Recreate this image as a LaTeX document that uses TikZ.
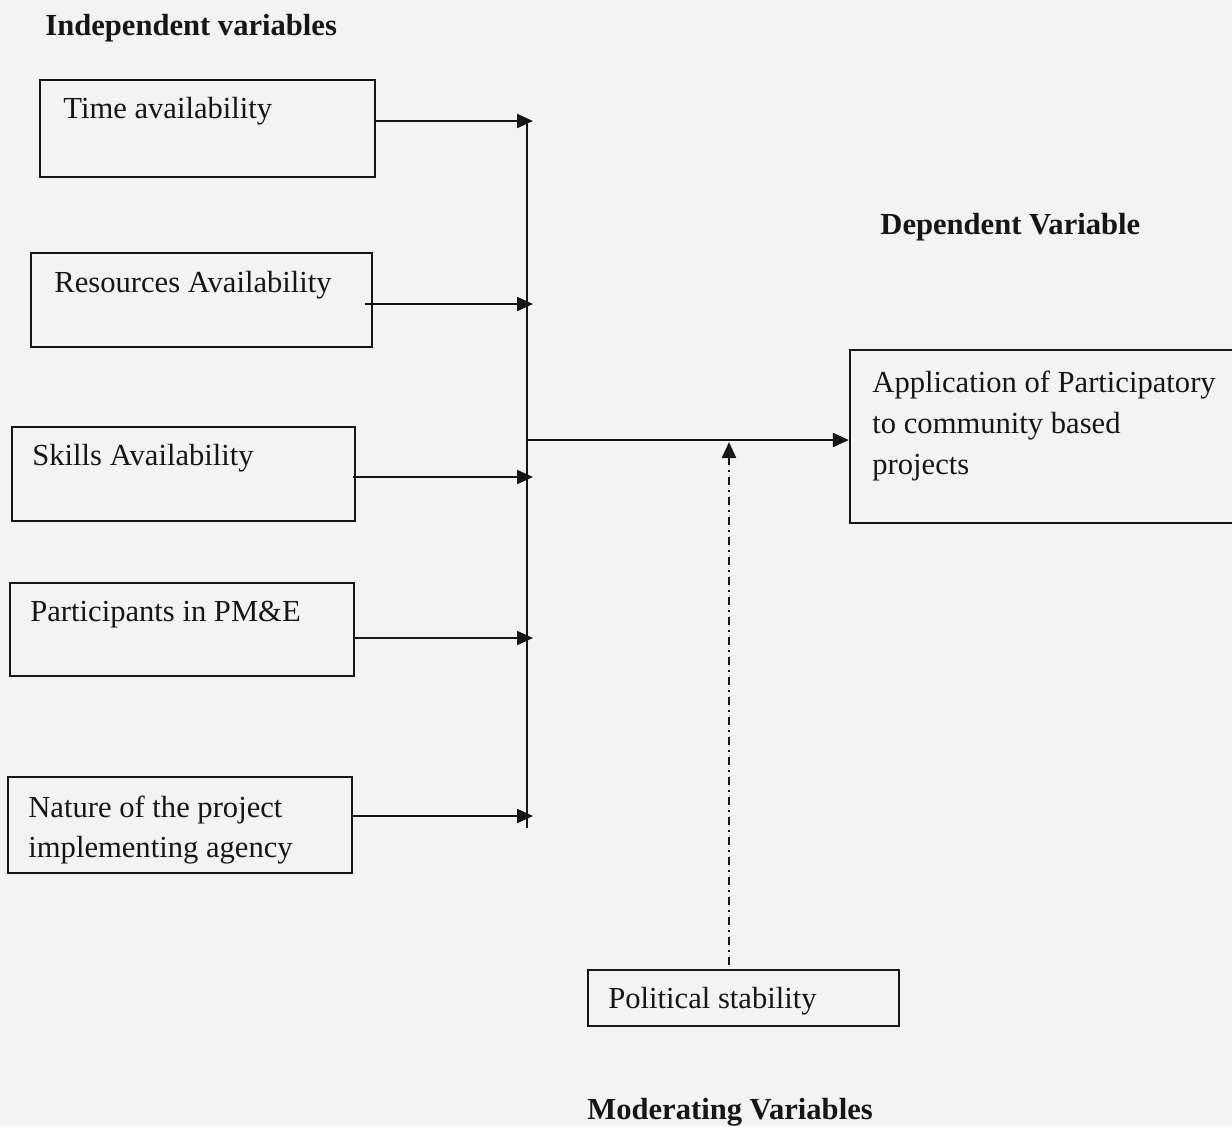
\documentclass[tikz,border=0pt]{standalone}
\usepackage{fontspec}
\setmainfont{Liberation Serif}
\usetikzlibrary{arrows.meta,fit}
\definecolor{paper}{RGB}{243,243,243}
\definecolor{ink}{RGB}{22,22,22}
\tikzset{
  vbox/.style={draw=ink, line width=1.2pt, inner sep=0pt},
  lbl/.style={anchor=west, inner sep=0pt, text=ink, align=left,
    font=\fontsize{15.3}{20.4}\selectfont},
  head/.style={anchor=west, inner sep=0pt, text=ink,
    font=\fontsize{15.3}{18}\selectfont\bfseries},
  trunk/.style={draw=ink, line width=1.1pt},
  link/.style={draw=ink, line width=1.1pt, -{Triangle[length=8pt,width=7pt]}},
  modlink/.style={link, line width=1.2pt, dash pattern=on 4pt off 2.5pt on 1pt off 2.5pt},
}
\begin{document}
\begin{tikzpicture}[x=0.5pt,y=-0.5pt]
\fill[paper] (0,0) rectangle (1232,1126);
\clip (0,0) rectangle (1232,1126);

% headings
\node[head] (indep) at (45,28) {Independent variables};
\node[head] (dep) at (880,227) {Dependent Variable};
\node[head] (mod) at (587,1112) {Moderating Variables};

% independent variable boxes
\node[vbox, fit={(40,80) (375,177)}] (time) {};
\node[lbl] (timet) at (63,111) {Time availability};
\node[vbox, fit={(31,253) (372,347)}] (res) {};
\node[lbl] (rest) at (54,285) {Resources Availability};
\node[vbox, fit={(12,427) (355,521)}] (skill) {};
\node[lbl] (skillt) at (32,458) {Skills Availability};
\node[vbox, fit={(10,583) (354,676)}] (part) {};
\node[lbl] (partt) at (30,615) {Participants in PM\&E};
\node[vbox, fit={(8,777) (352,873)}] (nat) {};
\node[lbl] (natt) at (28,830) {Nature of the project\\implementing agency};

% dependent variable box
\node[vbox, fit={(850,350) (1240,523)}] (app) {};
\node[lbl] (appt) at (872,426) {Application of Participatory\\to community based\\projects};

% moderating variable box
\node[vbox, fit={(588,970) (899,1026)}] (pol) {};
\node[lbl] (polt) at (608,1001) {Political stability};

% trunk line
\coordinate (vtop) at (527,120);
\coordinate (vbot) at (527,828);
\coordinate (vtip) at (533,0);
\draw[trunk] (vtop) -- (vbot);

% arrows into trunk
\draw[link] (time.east |- 0,121) -- (vtip |- 0,121);
\draw[link] ([xshift=-4pt]res.east |- 0,304) -- (vtip |- 0,304);
\draw[link] ([xshift=-1.5pt]skill.east |- 0,477) -- (vtip |- 0,477);
\draw[link] (part.east |- 0,638) -- (vtip |- 0,638);
\draw[link] (nat.east |- 0,816) -- (vtip |- 0,816);

% main arrow to dependent variable
\draw[link] (vtop |- 0,440) -- (app.west |- 0,440);

% moderating arrow
\coordinate (modx) at (729,0);
\draw[modlink] (pol.north -| modx) ++(0,-4) -- (modx |- 0,442);
\end{tikzpicture}
\end{document}
